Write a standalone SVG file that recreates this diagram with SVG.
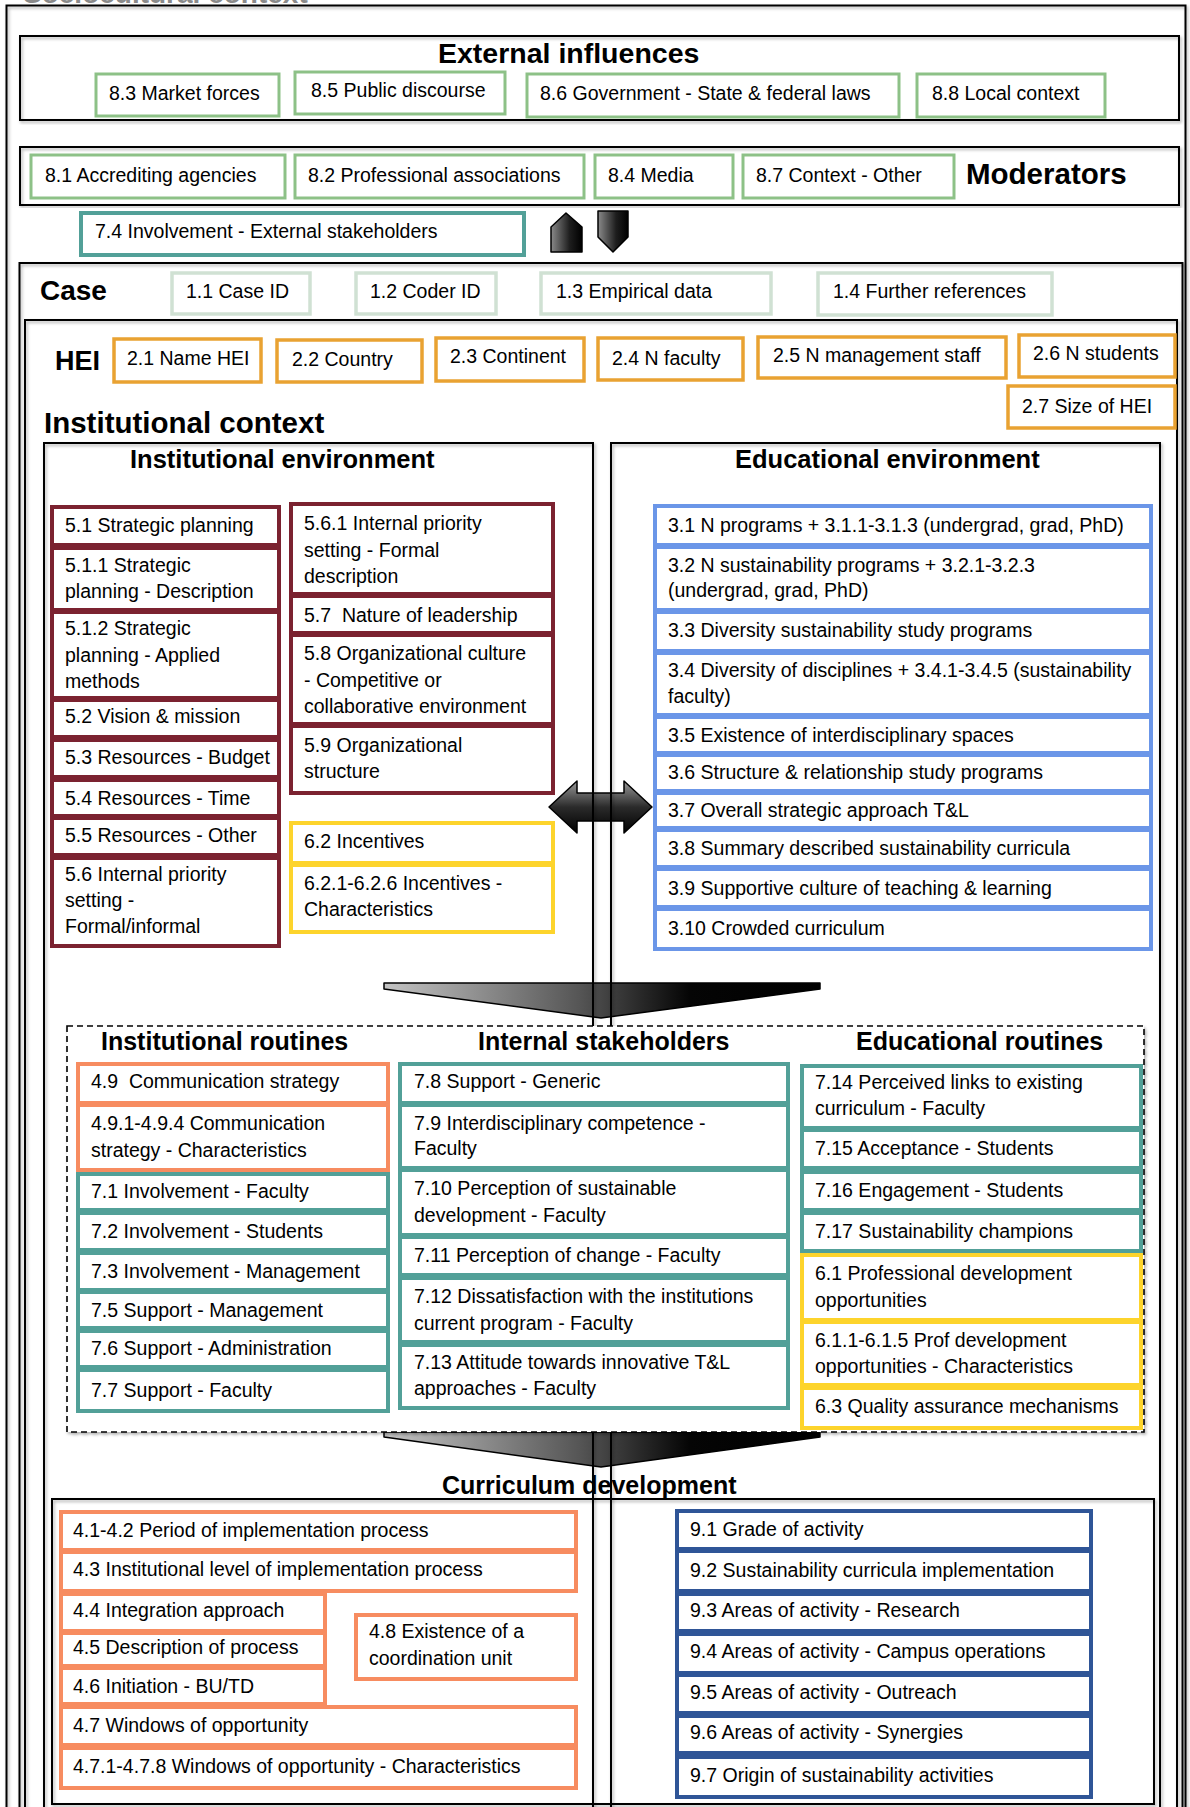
<svg xmlns="http://www.w3.org/2000/svg" width="1190" height="1807" viewBox="0 0 1190 1807">
  <defs>
    <style>
      .frame { fill: none; stroke: #000; stroke-width: 2; }
      .h { font-family: 'Liberation Sans', Arial, sans-serif; font-weight: bold; fill: #000; }
      .t { font-family: 'Liberation Sans', Arial, sans-serif; font-size: 19.5px; fill: #000; }
      .box { fill: #fff; stroke-width: 3.5; }
      .green { stroke: #8dc187; stroke-width: 3; }
      .pale { stroke: #d0e1d3; stroke-width: 3.5; }
      .amber { stroke: #e9a232; }
      .maroon { stroke: #7b2230; stroke-width: 4; }
      .yellow { stroke: #fdd42c; stroke-width: 4; }
      .blue { stroke: #6b96e8; stroke-width: 4; }
      .teal { stroke: #52a098; stroke-width: 4; }
      .coral { stroke: #f78c60; stroke-width: 4; }
      .navy { stroke: #2f5597; stroke-width: 4; }
      .block { stroke: #000; stroke-width: 1.5; stroke-linejoin: round; }
    </style>
    <filter id="shade" x="-5%" y="-5%" width="110%" height="110%">
      <feDropShadow dx="1.5" dy="2" stdDeviation="1.5" flood-color="#000" flood-opacity="0.3"/>
    </filter>
    <linearGradient id="gradH" x1="0" y1="0" x2="1" y2="0">
      <stop offset="0" stop-color="#8a8a8a"/>
      <stop offset="0.6" stop-color="#1e1e1e"/>
      <stop offset="1" stop-color="#000"/>
    </linearGradient>
    <linearGradient id="gradV" x1="0" y1="0" x2="0" y2="1">
      <stop offset="0" stop-color="#9a9a9a"/>
      <stop offset="0.5" stop-color="#2b2b2b"/>
      <stop offset="1" stop-color="#000"/>
    </linearGradient>
    <linearGradient id="gradFunnel" x1="0" y1="0" x2="1" y2="0">
      <stop offset="0" stop-color="#c4c4c4"/>
      <stop offset="0.45" stop-color="#555"/>
      <stop offset="0.7" stop-color="#050505"/>
      <stop offset="1" stop-color="#000"/>
    </linearGradient>
  </defs>

  <rect width="1190" height="1807" fill="#fff"/>

  <!-- Page title, running off the top edge -->
  <text class="h" x="23" y="3" font-size="28" fill="#8a8a8a" style="fill:#8a8a8a">Sociocultural context</text>

  <!-- Outer frame -->
  <g id="sociocultural-context">
    <rect class="frame" x="6.5" y="5.5" width="1179" height="1830" filter="url(#shade)"/>
  </g>

  <!-- External influences band -->
  <g id="external-influences">
    <rect class="frame" x="20" y="36" width="1159" height="84" filter="url(#shade)"/>
    <text class="h" x="438" y="63" font-size="28.5">External influences</text>
  </g>

  <!-- Moderators band -->
  <g id="moderators">
    <rect class="frame" x="20" y="147" width="1159" height="58" filter="url(#shade)"/>
    <text class="h" x="966" y="184" font-size="29.5">Moderators</text>
  </g>

  <!-- Case / HEI frames -->
  <g id="case">
    <rect class="frame" x="19.5" y="263" width="1163" height="1600" filter="url(#shade)"/>
    <text class="h" x="40" y="300" font-size="28">Case</text>
  </g>
  <g id="hei">
    <rect class="frame" x="25" y="320" width="1152" height="1540" filter="url(#shade)"/>
    <text class="h" x="55" y="370" font-size="27">HEI</text>
  </g>
  <g id="institutional-context">
    <text class="h" x="44" y="433" font-size="29.5">Institutional context</text>
  </g>

  <!-- Curriculum development frame -->
  <g id="curriculum-development">
    <rect class="frame" x="52" y="1499" width="1102" height="305" filter="url(#shade)"/>
    <text class="h" x="442" y="1494" font-size="25">Curriculum development</text>
  </g>

  <!-- Block arrows -->
  <g id="connectors">
    <polygon id="arrow-up" class="block" fill="url(#gradH)" points="551,252 551,227 566,213 582,227 582,252"/>
    <polygon id="arrow-down" class="block" fill="url(#gradH)" points="598,211 628,211 628,237 613,252 598,237"/>
    <polygon id="arrow-both" class="block" fill="url(#gradV)" points="549,807 577,781 577,793 624,793 624,781 652,807 624,833 624,821 577,821 577,833"/>
    <polygon id="funnel-upper" class="block" fill="url(#gradFunnel)" points="384,983 820,983 820,989 601,1018 384,989"/>
    <polygon id="funnel-lower" class="block" fill="url(#gradFunnel)" points="384,1432 820,1432 820,1437 601,1467 384,1437"/>
  </g>

  <!-- Environment frames (run through the lower part of the page) -->
  <g id="institutional-environment">
    <rect class="frame" x="44" y="443" width="549" height="1400" filter="url(#shade)"/>
    <text class="h" x="130" y="468" font-size="25.5">Institutional environment</text>
  </g>
  <g id="educational-environment">
    <rect class="frame" x="611" y="443" width="549" height="1400" filter="url(#shade)"/>
    <text class="h" x="735" y="468" font-size="25.5">Educational environment</text>
  </g>

  <!-- Routines and stakeholders frame -->
  <g id="routines">
    <rect x="67" y="1026" width="1077" height="406" fill="#fff" stroke="#000" stroke-width="1.6" stroke-dasharray="6 4" filter="url(#shade)"/>
    <text class="h" x="101" y="1050" font-size="25">Institutional routines</text>
    <text class="h" x="478" y="1050" font-size="25">Internal stakeholders</text>
    <text class="h" x="856" y="1050" font-size="25">Educational routines</text>
  </g>

  <!-- External influences -->
  <g id="n8-3"><rect class="box green" x="96" y="74" width="183" height="42"/><text class="t" x="109" y="100">8.3 Market forces</text></g>
  <g id="n8-5"><rect class="box green" x="295" y="72" width="210" height="42"/><text class="t" x="311" y="97">8.5 Public discourse</text></g>
  <g id="n8-6"><rect class="box green" x="527" y="74" width="372" height="43"/><text class="t" x="540" y="100">8.6 Government - State &amp; federal laws</text></g>
  <g id="n8-8"><rect class="box green" x="917" y="74" width="188" height="43"/><text class="t" x="932" y="100">8.8 Local context</text></g>

  <!-- Moderators -->
  <g id="n8-1"><rect class="box green" x="31" y="155" width="254" height="43"/><text class="t" x="45" y="182">8.1 Accrediting agencies</text></g>
  <g id="n8-2"><rect class="box green" x="295" y="155" width="289" height="43"/><text class="t" x="308" y="182">8.2 Professional associations</text></g>
  <g id="n8-4"><rect class="box green" x="595" y="155" width="138" height="43"/><text class="t" x="608" y="182">8.4 Media</text></g>
  <g id="n8-7"><rect class="box green" x="743" y="155" width="211" height="43"/><text class="t" x="756" y="182">8.7 Context - Other</text></g>

  <g id="n7-4"><rect class="box teal" x="81" y="213" width="443" height="42"/><text class="t" x="95" y="238">7.4 Involvement - External stakeholders</text></g>

  <!-- Case -->
  <g id="n1-1"><rect class="box pale" x="172" y="273" width="138" height="41"/><text class="t" x="186" y="298">1.1 Case ID</text></g>
  <g id="n1-2"><rect class="box pale" x="356" y="273" width="140" height="41"/><text class="t" x="370" y="298">1.2 Coder ID</text></g>
  <g id="n1-3"><rect class="box pale" x="541" y="273" width="230" height="41"/><text class="t" x="556" y="298">1.3 Empirical data</text></g>
  <g id="n1-4"><rect class="box pale" x="818" y="273" width="234" height="42"/><text class="t" x="833" y="298">1.4 Further references</text></g>

  <!-- HEI -->
  <g id="n2-1"><rect class="box amber" x="114" y="339" width="147" height="43"/><text class="t" x="127" y="365">2.1 Name HEI</text></g>
  <g id="n2-2"><rect class="box amber" x="277" y="340" width="145" height="42"/><text class="t" x="292" y="366">2.2 Country</text></g>
  <g id="n2-3"><rect class="box amber" x="436" y="338" width="148" height="43"/><text class="t" x="450" y="363">2.3 Continent</text></g>
  <g id="n2-4"><rect class="box amber" x="598" y="338" width="145" height="42"/><text class="t" x="612" y="365">2.4 N faculty</text></g>
  <g id="n2-5"><rect class="box amber" x="758" y="337" width="248" height="41"/><text class="t" x="773" y="362">2.5 N management staff</text></g>
  <g id="n2-6"><rect class="box amber" x="1019" y="335" width="156" height="42"/><text class="t" x="1033" y="360">2.6 N students</text></g>
  <g id="n2-7"><rect class="box amber" x="1008" y="386" width="167" height="42"/><text class="t" x="1022" y="413">2.7 Size of HEI</text></g>

  <!-- Institutional environment, left column -->
  <g id="n5-1"><rect class="box maroon" x="52" y="507" width="227" height="38"/><text class="t" x="65" y="532">5.1 Strategic planning</text></g>
  <g id="n5-1-1"><rect class="box maroon" x="52" y="548" width="227" height="62"/><text class="t" x="65" y="572">5.1.1 Strategic<tspan x="65" dy="26">planning - Description</tspan></text></g>
  <g id="n5-1-2"><rect class="box maroon" x="52" y="612" width="227" height="86"/><text class="t" x="65" y="635">5.1.2 Strategic<tspan x="65" dy="27">planning - Applied</tspan><tspan x="65" dy="26">methods</tspan></text></g>
  <g id="n5-2"><rect class="box maroon" x="52" y="700" width="227" height="37"/><text class="t" x="65" y="723">5.2 Vision &amp; mission</text></g>
  <g id="n5-3"><rect class="box maroon" x="52" y="740" width="227" height="37"/><text class="t" x="65" y="764">5.3 Resources - Budget</text></g>
  <g id="n5-4"><rect class="box maroon" x="52" y="780" width="227" height="36"/><text class="t" x="65" y="805">5.4 Resources - Time</text></g>
  <g id="n5-5"><rect class="box maroon" x="52" y="818" width="227" height="37"/><text class="t" x="65" y="842">5.5 Resources - Other</text></g>
  <g id="n5-6"><rect class="box maroon" x="52" y="858" width="227" height="88"/><text class="t" x="65" y="881">5.6 Internal priority<tspan x="65" dy="26">setting -</tspan><tspan x="65" dy="26">Formal/informal</tspan></text></g>

  <!-- Institutional environment, right column -->
  <g id="n5-6-1"><rect class="box maroon" x="291" y="504" width="262" height="90"/><text class="t" x="304" y="530">5.6.1 Internal priority<tspan x="304" dy="27">setting - Formal</tspan><tspan x="304" dy="26">description</tspan></text></g>
  <g id="n5-7"><rect class="box maroon" x="291" y="596" width="262" height="37"/><text class="t" x="304" y="622" xml:space="preserve">5.7  Nature of leadership</text></g>
  <g id="n5-8"><rect class="box maroon" x="291" y="635" width="262" height="89"/><text class="t" x="304" y="660">5.8 Organizational culture<tspan x="304" dy="27">- Competitive or</tspan><tspan x="304" dy="26">collaborative environment</tspan></text></g>
  <g id="n5-9"><rect class="box maroon" x="291" y="726" width="262" height="67"/><text class="t" x="304" y="752">5.9 Organizational<tspan x="304" dy="26">structure</tspan></text></g>
  <g id="n6-2"><rect class="box yellow" x="291" y="823" width="262" height="40"/><text class="t" x="304" y="848">6.2 Incentives</text></g>
  <g id="n6-2-1"><rect class="box yellow" x="291" y="865" width="262" height="67"/><text class="t" x="304" y="890">6.2.1-6.2.6 Incentives -<tspan x="304" dy="26">Characteristics</tspan></text></g>

  <!-- Educational environment -->
  <g id="n3-1"><rect class="box blue" x="655" y="506" width="496" height="39"/><text class="t" x="668" y="532">3.1 N programs + 3.1.1-3.1.3 (undergrad, grad, PhD)</text></g>
  <g id="n3-2"><rect class="box blue" x="655" y="547" width="496" height="63"/><text class="t" x="668" y="572">3.2 N sustainability programs + 3.2.1-3.2.3<tspan x="668" dy="25">(undergrad, grad, PhD)</tspan></text></g>
  <g id="n3-3"><rect class="box blue" x="655" y="612" width="496" height="39"/><text class="t" x="668" y="637">3.3 Diversity sustainability study programs</text></g>
  <g id="n3-4"><rect class="box blue" x="655" y="653" width="496" height="62"/><text class="t" x="668" y="677">3.4 Diversity of disciplines + 3.4.1-3.4.5 (sustainability<tspan x="668" dy="26">faculty)</tspan></text></g>
  <g id="n3-5"><rect class="box blue" x="655" y="717" width="496" height="36"/><text class="t" x="668" y="742">3.5 Existence of interdisciplinary spaces</text></g>
  <g id="n3-6"><rect class="box blue" x="655" y="755" width="496" height="36"/><text class="t" x="668" y="779">3.6 Structure &amp; relationship study programs</text></g>
  <g id="n3-7"><rect class="box blue" x="655" y="793" width="496" height="35"/><text class="t" x="668" y="817">3.7 Overall strategic approach T&amp;L</text></g>
  <g id="n3-8"><rect class="box blue" x="655" y="830" width="496" height="37"/><text class="t" x="668" y="855">3.8 Summary described sustainability curricula</text></g>
  <g id="n3-9"><rect class="box blue" x="655" y="869" width="496" height="38"/><text class="t" x="668" y="895">3.9 Supportive culture of teaching &amp; learning</text></g>
  <g id="n3-10"><rect class="box blue" x="655" y="909" width="496" height="40"/><text class="t" x="668" y="935">3.10 Crowded curriculum</text></g>

  <!-- Institutional routines -->
  <g id="n4-9"><rect class="box coral" x="78" y="1064" width="310" height="39"/><text class="t" x="91" y="1088" xml:space="preserve">4.9  Communication strategy</text></g>
  <g id="n4-9-1"><rect class="box coral" x="78" y="1105" width="310" height="65"/><text class="t" x="91" y="1130">4.9.1-4.9.4 Communication<tspan x="91" dy="27">strategy - Characteristics</tspan></text></g>
  <g id="n7-1"><rect class="box teal" x="78" y="1174" width="310" height="36"/><text class="t" x="91" y="1198">7.1 Involvement - Faculty</text></g>
  <g id="n7-2"><rect class="box teal" x="78" y="1213" width="310" height="37"/><text class="t" x="91" y="1238">7.2 Involvement - Students</text></g>
  <g id="n7-3"><rect class="box teal" x="78" y="1253" width="310" height="37"/><text class="t" x="91" y="1278">7.3 Involvement - Management</text></g>
  <g id="n7-5"><rect class="box teal" x="78" y="1292" width="310" height="36"/><text class="t" x="91" y="1317">7.5 Support - Management</text></g>
  <g id="n7-6"><rect class="box teal" x="78" y="1331" width="310" height="36"/><text class="t" x="91" y="1355">7.6 Support - Administration</text></g>
  <g id="n7-7"><rect class="box teal" x="78" y="1370" width="310" height="41"/><text class="t" x="91" y="1397">7.7 Support - Faculty</text></g>

  <!-- Internal stakeholders -->
  <g id="n7-8"><rect class="box teal" x="400" y="1064" width="388" height="39"/><text class="t" x="414" y="1088">7.8 Support - Generic</text></g>
  <g id="n7-9"><rect class="box teal" x="400" y="1105" width="388" height="63"/><text class="t" x="414" y="1130">7.9 Interdisciplinary competence -<tspan x="414" dy="25">Faculty</tspan></text></g>
  <g id="n7-10"><rect class="box teal" x="400" y="1170" width="388" height="65"/><text class="t" x="414" y="1195">7.10 Perception of sustainable<tspan x="414" dy="27">development - Faculty</tspan></text></g>
  <g id="n7-11"><rect class="box teal" x="400" y="1237" width="388" height="38"/><text class="t" x="414" y="1262">7.11 Perception of change - Faculty</text></g>
  <g id="n7-12"><rect class="box teal" x="400" y="1278" width="388" height="64"/><text class="t" x="414" y="1303">7.12 Dissatisfaction with the institutions<tspan x="414" dy="27">current program - Faculty</tspan></text></g>
  <g id="n7-13"><rect class="box teal" x="400" y="1345" width="388" height="63"/><text class="t" x="414" y="1369">7.13 Attitude towards innovative T&amp;L<tspan x="414" dy="26">approaches - Faculty</tspan></text></g>

  <!-- Educational routines -->
  <g id="n7-14"><rect class="box teal" x="802" y="1066" width="339" height="62"/><text class="t" x="815" y="1089">7.14 Perceived links to existing<tspan x="815" dy="26">curriculum - Faculty</tspan></text></g>
  <g id="n7-15"><rect class="box teal" x="802" y="1130" width="339" height="38"/><text class="t" x="815" y="1155">7.15 Acceptance - Students</text></g>
  <g id="n7-16"><rect class="box teal" x="802" y="1172" width="339" height="38"/><text class="t" x="815" y="1197">7.16 Engagement - Students</text></g>
  <g id="n7-17"><rect class="box teal" x="802" y="1213" width="339" height="38"/><text class="t" x="815" y="1238">7.17 Sustainability champions</text></g>
  <g id="n6-1"><rect class="box yellow" x="802" y="1255" width="339" height="65"/><text class="t" x="815" y="1280">6.1 Professional development<tspan x="815" dy="27">opportunities</tspan></text></g>
  <g id="n6-1-1"><rect class="box yellow" x="802" y="1322" width="339" height="63"/><text class="t" x="815" y="1347">6.1.1-6.1.5 Prof development<tspan x="815" dy="26">opportunities - Characteristics</tspan></text></g>
  <g id="n6-3"><rect class="box yellow" x="802" y="1388" width="339" height="40"/><text class="t" x="815" y="1413">6.3 Quality assurance mechanisms</text></g>

  <!-- Curriculum development, process items -->
  <g id="n4-1"><rect class="box coral" x="61" y="1512" width="515" height="38"/><text class="t" x="73" y="1537">4.1-4.2 Period of implementation process</text></g>
  <g id="n4-3"><rect class="box coral" x="61" y="1552" width="515" height="39"/><text class="t" x="73" y="1576">4.3 Institutional level of implementation process</text></g>
  <g id="n4-4"><rect class="box coral" x="61" y="1594" width="264" height="37"/><text class="t" x="73" y="1617">4.4 Integration approach</text></g>
  <g id="n4-5"><rect class="box coral" x="61" y="1633" width="264" height="33"/><text class="t" x="73" y="1654">4.5 Description of process</text></g>
  <g id="n4-6"><rect class="box coral" x="61" y="1668" width="264" height="36"/><text class="t" x="73" y="1693">4.6 Initiation - BU/TD</text></g>
  <g id="n4-8"><rect class="box coral" x="356" y="1615" width="220" height="64"/><text class="t" x="369" y="1638">4.8 Existence of a<tspan x="369" dy="27">coordination unit</tspan></text></g>
  <g id="n4-7"><rect class="box coral" x="61" y="1707" width="515" height="38"/><text class="t" x="73" y="1732">4.7 Windows of opportunity</text></g>
  <g id="n4-7-1"><rect class="box coral" x="61" y="1748" width="515" height="40"/><text class="t" x="73" y="1773">4.7.1-4.7.8 Windows of opportunity - Characteristics</text></g>

  <!-- Curriculum development, activity items -->
  <g id="n9-1"><rect class="box navy" x="677" y="1511" width="414" height="38"/><text class="t" x="690" y="1536">9.1 Grade of activity</text></g>
  <g id="n9-2"><rect class="box navy" x="677" y="1551" width="414" height="40"/><text class="t" x="690" y="1577">9.2 Sustainability curricula implementation</text></g>
  <g id="n9-3"><rect class="box navy" x="677" y="1594" width="414" height="37"/><text class="t" x="690" y="1617">9.3 Areas of activity - Research</text></g>
  <g id="n9-4"><rect class="box navy" x="677" y="1634" width="414" height="39"/><text class="t" x="690" y="1658">9.4 Areas of activity - Campus operations</text></g>
  <g id="n9-5"><rect class="box navy" x="677" y="1675" width="414" height="38"/><text class="t" x="690" y="1699">9.5 Areas of activity - Outreach</text></g>
  <g id="n9-6"><rect class="box navy" x="677" y="1716" width="414" height="37"/><text class="t" x="690" y="1739">9.6 Areas of activity - Synergies</text></g>
  <g id="n9-7"><rect class="box navy" x="677" y="1757" width="414" height="40"/><text class="t" x="690" y="1782">9.7 Origin of sustainability activities</text></g>
</svg>
